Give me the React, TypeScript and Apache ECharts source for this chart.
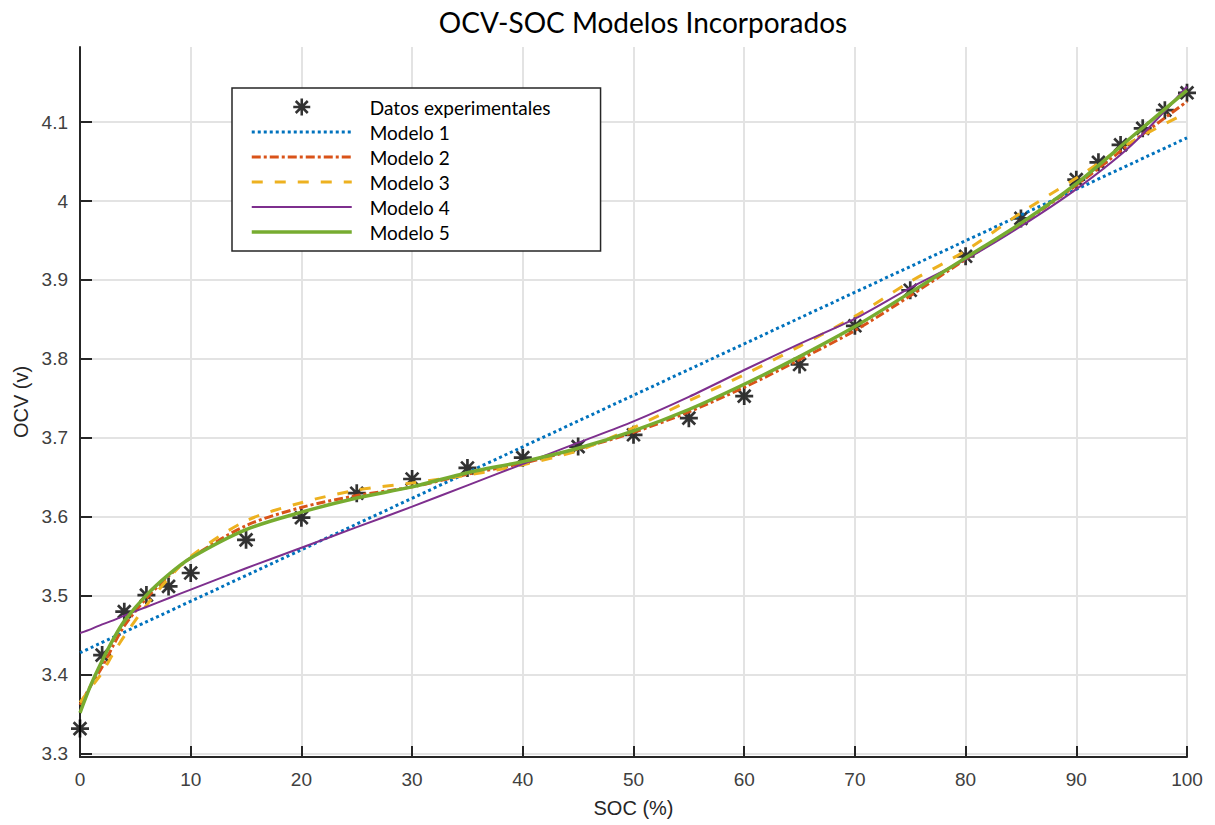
import React, { useEffect, useRef } from "react";
import * as echarts from "echarts";

const TITLE = "OCV-SOC Modelos Incorporados";
const X_NAME = "SOC (%)";
const Y_NAME = "OCV (v)";
const SERIES_NAMES = ["Datos experimentales", "Modelo 1", "Modelo 2", "Modelo 3", "Modelo 4", "Modelo 5"];

const socExp = [0, 2, 4, 6, 8, 10, 15, 20, 25, 30, 35, 40, 45, 50, 55, 60, 65, 70, 75, 80, 85, 90, 92, 94, 96, 98, 100];
const ocvExp = [3.332, 3.425, 3.480, 3.501, 3.512, 3.529, 3.571, 3.599, 3.630, 3.648, 3.662, 3.675, 3.689, 3.704, 3.725, 3.753, 3.793, 3.842, 3.887, 3.930, 3.978, 4.027, 4.049, 4.071, 4.092, 4.115, 4.137];

const socLin = [0, 50, 100];
const model1 = [3.428, 3.754, 4.080];

const socFit = [0, 1, 2, 3, 4, 6, 8, 10, 15, 20, 25, 30, 35, 40, 45, 50, 55, 60, 65, 70, 75, 80, 85, 90, 95, 100];
const model2 = [3.362, 3.387, 3.410, 3.437, 3.462, 3.497, 3.525, 3.548, 3.589, 3.612, 3.627, 3.638, 3.654, 3.668, 3.686, 3.707, 3.733, 3.764, 3.799, 3.836, 3.880, 3.926, 3.971, 4.020, 4.074, 4.126];
const model3 = [3.365, 3.384, 3.403, 3.427, 3.449, 3.488, 3.522, 3.550, 3.595, 3.618, 3.634, 3.643, 3.653, 3.666, 3.684, 3.713, 3.747, 3.780, 3.816, 3.854, 3.898, 3.937, 3.985, 4.029, 4.075, 4.112];
const model4 = [3.453, 3.458, 3.464, 3.469, 3.475, 3.486, 3.497, 3.508, 3.535, 3.561, 3.587, 3.613, 3.640, 3.667, 3.694, 3.721, 3.752, 3.786, 3.819, 3.851, 3.890, 3.926, 3.968, 4.015, 4.071, 4.145];
const model5 = [3.352, 3.388, 3.418, 3.445, 3.468, 3.501, 3.527, 3.548, 3.584, 3.606, 3.624, 3.638, 3.656, 3.670, 3.687, 3.709, 3.736, 3.768, 3.803, 3.841, 3.884, 3.928, 3.972, 4.022, 4.081, 4.140];

const COLORS = ["#000000", "#0072BD", "#D95319", "#EDB120", "#7E2F8E", "#77AC30"];
const WIDTHS = [0, 3, 3, 3, 2, 3.5];
const DASHES: any[] = [null, [3, 3], [9, 3, 3, 3], [11, 12], "solid", "solid"];

const ASTERISK =
  "path://M-1.5,-10L1.5,-10L1.5,10L-1.5,10Z" +
  "M-10,-1.5L10,-1.5L10,1.5L-10,1.5Z" +
  "M-6.01,-8.13L8.13,6.01L6.01,8.13L-8.13,-6.01Z" +
  "M6.01,-8.13L8.13,-6.01L-6.01,8.13L-8.13,6.01Z";

const zip = (xs: number[], ys: number[]) => xs.map((x, i) => [x, ys[i]]);

export default function App() {
  const ref = useRef<HTMLDivElement>(null);
  useEffect(() => {
    document.body.style.margin = "0";
    if (!ref.current) return;
    const chart = echarts.init(ref.current, null, { renderer: "svg" });
    const lineSeries = (i: number, data: number[][], z: number) => ({
      name: SERIES_NAMES[i],
      type: "line",
      data,
      smooth: 0.3,
      showSymbol: false,
      symbol: "none",
      z,
      itemStyle: { color: COLORS[i] },
      lineStyle: { color: COLORS[i], width: WIDTHS[i], type: DASHES[i], cap: "butt" },
    });
    const legendData = SERIES_NAMES.map((name, i) =>
      i === 0
        ? { name }
        : {
            name,
            itemStyle: { opacity: 0 },
            lineStyle: { color: COLORS[i], width: WIDTHS[i], type: DASHES[i], cap: "butt", opacity: 1 },
          }
    );
    chart.setOption({
      animation: false,
      backgroundColor: "#ffffff",
      title: {
        text: TITLE,
        left: 638,
        textAlign: "center",
        top: 3,
        textStyle: { fontFamily: "Lato", fontSize: 28, fontWeight: "normal", color: "#000000" },
      },
      legend: {
        orient: "vertical",
        left: 232,
        top: 88,
        align: "left",
        itemWidth: 100,
        itemHeight: 17,
        itemGap: 5,
        padding: [9, 50, 9, 18],
        borderColor: "#262626",
        borderWidth: 1.5,
        backgroundColor: "#ffffff",
        textStyle: { fontFamily: "Lato", fontSize: 19, color: "#000000", lineHeight: 20, padding: [0, 0, 0, 13] },
        data: legendData,
      },
      grid: { left: 80, right: 28, top: 47, bottom: 68, containLabel: false },
      xAxis: {
        type: "value",
        min: 0,
        max: 100,
        interval: 10,
        name: X_NAME,
        nameLocation: "middle",
        nameGap: 41,
        nameTextStyle: { fontFamily: "Liberation Sans, Arial", fontSize: 20, color: "#262626" },
        axisLine: { show: true, onZero: false, lineStyle: { color: "#262626", width: 2 } },
        axisTick: { show: true, inside: true, length: 11, lineStyle: { color: "#262626", width: 2 } },
        axisLabel: { margin: 13, fontFamily: "Liberation Sans, Arial", fontSize: 19, color: "#404040" },
        splitLine: { show: true, lineStyle: { color: "#e3e3e3", width: 2 } },
      },
      yAxis: {
        type: "value",
        min: 3.296,
        max: 4.195,
        splitNumber: 9,
        name: Y_NAME,
        nameLocation: "middle",
        nameGap: 48,
        nameTextStyle: { fontFamily: "Liberation Sans, Arial", fontSize: 20, color: "#262626" },
        axisLine: { show: true, onZero: false, lineStyle: { color: "#262626", width: 2 } },
        axisTick: { show: true, inside: true, length: 12, lineStyle: { color: "#262626", width: 2 } },
        axisLabel: {
          margin: 12,
          showMinLabel: false,
          showMaxLabel: false,
          fontFamily: "Liberation Sans, Arial",
          fontSize: 19,
          color: "#404040",
        },
        splitLine: { show: true, showMinLine: false, showMaxLine: false, lineStyle: { color: "#e3e3e3", width: 2 } },
      },
      series: [
        {
          name: SERIES_NAMES[0],
          type: "scatter",
          data: zip(socExp, ocvExp),
          symbol: ASTERISK,
          symbolSize: 18,
          z: 2,
          itemStyle: { color: COLORS[0] },
        },
        lineSeries(1, zip(socLin, model1), 3),
        lineSeries(2, zip(socFit, model2), 4),
        lineSeries(3, zip(socFit, model3), 5),
        lineSeries(4, zip(socFit, model4), 6),
        lineSeries(5, zip(socFit, model5), 7),
      ],
    });
    return () => chart.dispose();
  }, []);
  return <div ref={ref} style={{ width: 1215, height: 825 }} />;
}
